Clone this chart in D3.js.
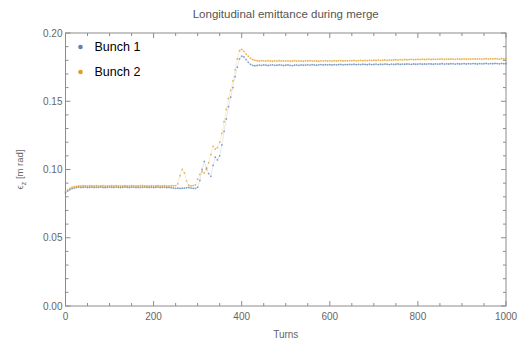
<!DOCTYPE html>
<html>
<head>
<meta charset="utf-8">
<script src="https://cdn.jsdelivr.net/npm/d3@7"></script>
<style>
  body { margin: 0; background: #fff; }
  text { font-family: "Liberation Sans", Arial, sans-serif; }
</style>
</head>
<body>
<div id="chart"></div>
<script>
// one sample every 5 turns, 0..1000
var turns = d3.range(0, 1001, 5);

var bunch1 = [
  .0830,.0842,.0852,.0860,.0864,.0868,.0871,.0869,.0870,.0872,
  .0868,.0870,.0871,.0869,.0870,.0870,.0872,.0869,.0868,.0870,
  .0871,.0870,.0869,.0871,.0870,.0868,.0870,.0872,.0870,.0869,
  .0870,.0871,.0868,.0870,.0869,.0870,.0871,.0870,.0869,.0870,
  .0868,.0870,.0871,.0869,.0870,.0870,.0868,.0869,.0867,.0864,
  .0862,.0863,.0861,.0863,.0864,.0866,.0868,.0864,.0862,.0861,
  .0870,.0920,.1000,.1060,.1010,.0970,.0950,.1030,.1090,.1070,
  .1100,.1180,.1280,.1370,.1460,.1530,.1600,.1680,.1750,.1810,
  .1830,.1825,.1805,.1785,.1770,.1763,.1760,.1762,.1765,.1763,
  .1766,.1764,.1762,.1765,.1767,.1763,.1764,.1766,.1765,.1762,
  .1764,.1766,.1763,.1761,.1764,.1765,.1763,.1766,.1764,.1765,
  .1767,.1765,.1768,.1766,.1764,.1767,.1769,.1766,.1768,.1767,
  .1768,.1766,.1769,.1767,.1768,.1770,.1767,.1769,.1768,.1770,
  .1769,.1771,.1768,.1770,.1769,.1771,.1770,.1768,.1771,.1769,
  .1770,.1772,.1769,.1771,.1770,.1772,.1771,.1769,.1772,.1770,
  .1771,.1773,.1770,.1772,.1771,.1773,.1772,.1770,.1773,.1771,
  .1772,.1774,.1771,.1773,.1772,.1774,.1773,.1771,.1774,.1772,
  .1773,.1775,.1772,.1774,.1773,.1775,.1774,.1772,.1775,.1773,
  .1774,.1776,.1773,.1775,.1774,.1776,.1775,.1773,.1776,.1774,
  .1775,.1777,.1774,.1776,.1775,.1777,.1776,.1774,.1777,.1775,
  .1776
];

var bunch2 = [
  .0838,.0850,.0862,.0870,.0875,.0877,.0879,.0880,.0881,.0879,
  .0880,.0881,.0879,.0880,.0882,.0880,.0879,.0881,.0880,.0880,
  .0879,.0881,.0880,.0882,.0880,.0879,.0880,.0881,.0880,.0879,
  .0881,.0880,.0879,.0880,.0882,.0881,.0880,.0879,.0880,.0881,
  .0880,.0879,.0881,.0880,.0880,.0882,.0880,.0879,.0881,.0880,
  .0882,.0895,.0955,.1000,.0975,.0915,.0885,.0880,.0882,.0888,
  .0930,.0965,.0985,.0975,.1000,.1050,.1110,.1170,.1150,.1160,
  .1200,.1265,.1350,.1440,.1520,.1580,.1650,.1730,.1810,.1870,
  .1880,.1865,.1845,.1830,.1815,.1805,.1800,.1797,.1795,.1797,
  .1796,.1794,.1797,.1795,.1793,.1796,.1794,.1797,.1795,.1796,
  .1794,.1796,.1793,.1795,.1797,.1794,.1796,.1795,.1793,.1796,
  .1795,.1797,.1794,.1796,.1795,.1793,.1796,.1794,.1797,.1795,
  .1796,.1794,.1797,.1795,.1796,.1798,.1795,.1797,.1796,.1798,
  .1797,.1799,.1796,.1798,.1800,.1797,.1799,.1798,.1800,.1799,
  .1801,.1799,.1802,.1800,.1801,.1803,.1800,.1802,.1801,.1803,
  .1804,.1802,.1805,.1803,.1806,.1804,.1805,.1807,.1805,.1806,
  .1807,.1805,.1808,.1806,.1807,.1809,.1806,.1808,.1807,.1809,
  .1808,.1810,.1807,.1809,.1808,.1810,.1809,.1807,.1810,.1808,
  .1809,.1811,.1808,.1810,.1809,.1811,.1810,.1808,.1811,.1809,
  .1810,.1812,.1809,.1811,.1810,.1812,.1811,.1809,.1812,.1810,
  .1811
];

var seriesNames = ["Bunch 1", "Bunch 2"];
var seriesColors = ["#5e81b5", "#e19c24"];
var xTicks = [0, 200, 400, 600, 800, 1000];
var yTicks = [0.00, 0.05, 0.10, 0.15, 0.20];

var W = 519, H = 344;
var margin = {top: 33, right: 13, bottom: 38, left: 65.5},
    width = W - margin.left - margin.right,
    height = H - margin.top - margin.bottom;

var svg = d3.select("#chart").append("svg")
    .attr("width", W)
    .attr("height", H);

var g = svg.append("g")
    .attr("transform", "translate(" + margin.left + "," + margin.top + ")");

var x = d3.scaleLinear().domain([0, 1000]).range([0, width]);
var y = d3.scaleLinear().domain([0, 0.2]).range([height, 0]);

var frameColor = "#8c8c8c", labelColor = "#666";

// frame
g.append("rect")
    .attr("width", width)
    .attr("height", height)
    .style("fill", "none")
    .style("stroke", frameColor)
    .style("stroke-width", 1);

// ticks point inward on all four sides
var xMinor = d3.range(0, 1001, 50), yMinor = d3.range(0, 0.2001, 0.01);
function isMajorX(d) { return d % 200 === 0; }
function isMajorY(d) { return Math.abs(Math.round(d * 20) - d * 20) < 1e-6; }

var ticks = g.append("g").style("stroke", frameColor).style("stroke-width", 1);
xMinor.forEach(function(d) {
    var len = isMajorX(d) ? 5 : 3;
    ticks.append("line").attr("x1", x(d)).attr("x2", x(d)).attr("y1", height).attr("y2", height - len);
    ticks.append("line").attr("x1", x(d)).attr("x2", x(d)).attr("y1", 0).attr("y2", len);
});
yMinor.forEach(function(d) {
    var len = isMajorY(d) ? 5 : 3;
    ticks.append("line").attr("y1", y(d)).attr("y2", y(d)).attr("x1", 0).attr("x2", len);
    ticks.append("line").attr("y1", y(d)).attr("y2", y(d)).attr("x1", width).attr("x2", width - len);
});

g.selectAll(".xlab")
    .data(xTicks)
  .enter().append("text")
    .attr("x", function(d) { return x(d); })
    .attr("y", height + 14)
    .style("text-anchor", "middle")
    .style("font-size", "10px")
    .style("fill", labelColor)
    .text(function(d) { return d; });

g.selectAll(".ylab")
    .data(yTicks)
  .enter().append("text")
    .attr("x", -3)
    .attr("y", function(d) { return y(d); })
    .attr("dy", ".35em")
    .style("text-anchor", "end")
    .style("font-size", "10px")
    .style("fill", labelColor)
    .text(function(d) { return d.toFixed(2); });

// points
[bunch1, bunch2].forEach(function(vals, k) {
    var pts = vals.map(function(v, i) { return [turns[i], v]; });
    g.append("path")
        .datum(pts)
        .attr("d", d3.line().x(function(d) { return x(d[0]); }).y(function(d) { return y(d[1]); }))
        .style("fill", "none")
        .style("stroke", seriesColors[k])
        .style("stroke-width", 0.6)
        .style("opacity", 0.3);
    g.selectAll(".pt" + k)
        .data(pts)
      .enter().append("circle")
        .attr("cx", function(d) { return x(d[0]); })
        .attr("cy", function(d) { return y(d[1]); })
        .attr("r", 0.9)
        .style("fill", seriesColors[k])
        .style("opacity", 0.75);
});

// legend
var legend = g.selectAll(".legend")
    .data(seriesNames)
  .enter().append("g")
    .attr("transform", function(d, i) { return "translate(15," + (14 + i * 25) + ")"; });

legend.append("circle")
    .attr("r", 2.3)
    .style("fill", function(d, i) { return seriesColors[i]; });

legend.append("text")
    .attr("x", 14)
    .attr("dy", ".35em")
    .style("font-size", "12.5px")
    .style("fill", "#000")
    .text(function(d) { return d; });

// titles
svg.append("text")
    .attr("x", margin.left + width / 2)
    .attr("y", 18)
    .style("text-anchor", "middle")
    .style("font-size", "11.5px")
    .style("fill", "#555")
    .text("Longitudinal emittance during merge");

svg.append("text")
    .attr("x", margin.left + width / 2)
    .attr("y", 338)
    .style("text-anchor", "middle")
    .style("font-size", "10px")
    .style("fill", labelColor)
    .text("Turns");

var yl = svg.append("text")
    .attr("transform", "translate(23," + (margin.top + height / 2) + ") rotate(-90)")
    .style("text-anchor", "middle")
    .style("font-size", "9.5px")
    .style("fill", labelColor);
yl.append("tspan").text("\u03f5");
yl.append("tspan").attr("dy", 2.5).style("font-size", "7px").text("z");
yl.append("tspan").attr("dy", -2.5).text(" [m rad]");
</script>
</body>
</html>
